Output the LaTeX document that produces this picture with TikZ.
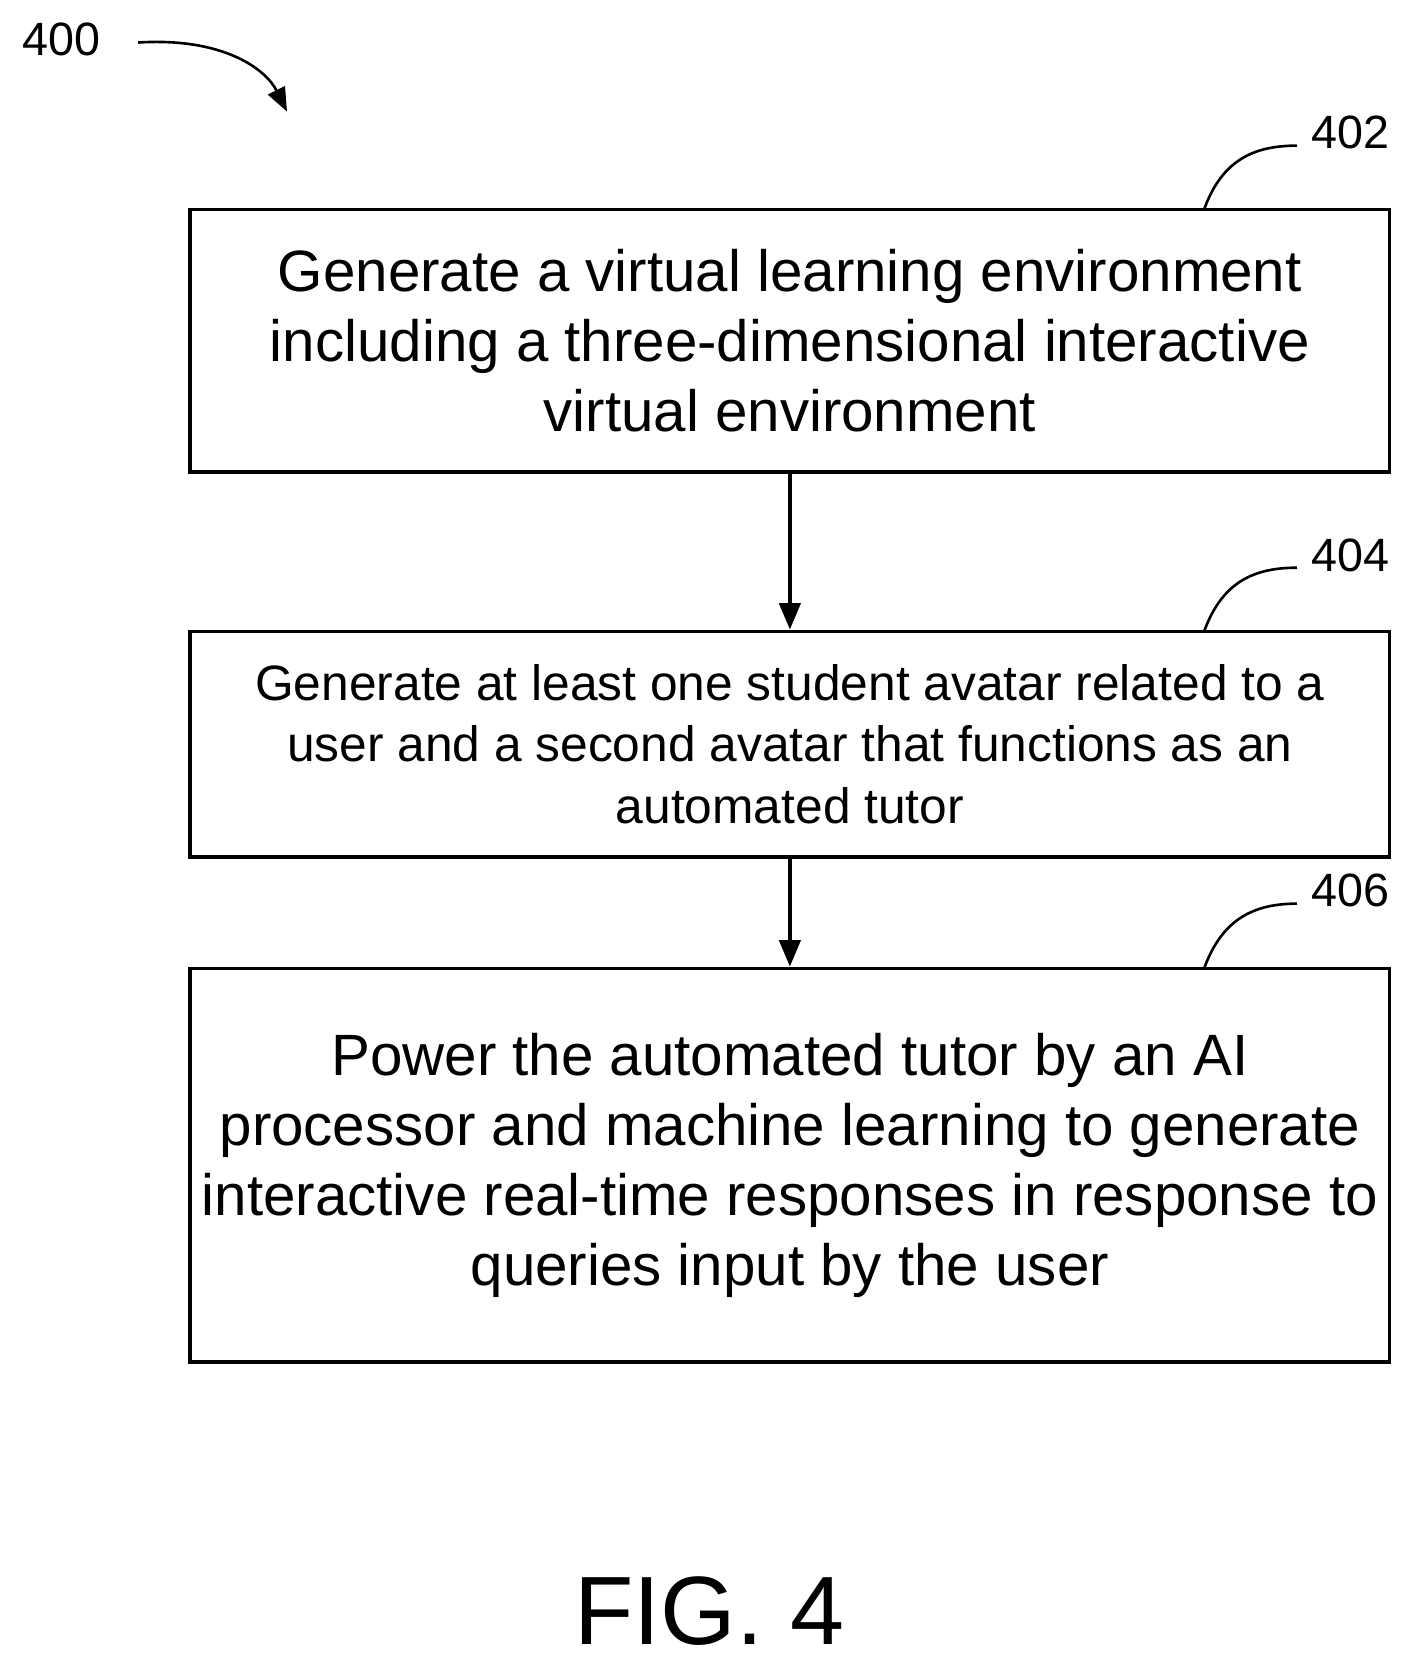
\documentclass[tikz,border=0pt]{standalone}
\usepackage{fontspec}
\setmainfont{Liberation Sans}
\usetikzlibrary{arrows.meta}
\tikzset{
  flowbox/.style={draw, line width=2pt, align=center},
  ref/.style={font=\fontsize{25}{30}\selectfont, anchor=center},
  lead/.style={line width=1.4pt},
  flow/.style={line width=2pt, -{Triangle[length=0.5cm, width=0.4cm]}}
}
\begin{document}
\begin{tikzpicture}
\useasboundingbox (0,0) rectangle (26.6,-31.38);

% Steps
\node[flowbox, minimum width=22.56cm, minimum height=4.94cm, font=\fontsize{31.2}{37.5}\selectfont] (gen) at (14.86,-6.41) {Generate a virtual learning environment\\including a three-dimensional interactive\\virtual environment};
\node[flowbox, minimum width=22.56cm, minimum height=4.24cm, font=\fontsize{26.6}{33}\selectfont] (avatar) at (14.86,-14.0) {Generate at least one student avatar related to a\\user and a second avatar that functions as an\\automated tutor};
\node[flowbox, minimum width=22.56cm, minimum height=7.4cm, font=\fontsize{31.2}{37.5}\selectfont] (tutor) at (14.86,-21.92) {Power the automated tutor by an AI\\processor and machine learning to generate\\interactive real-time responses in response to\\queries input by the user};

% Arrows
\draw[flow] (gen) -- (avatar);
\draw[flow] (avatar) -- (tutor);

% Reference numerals
\node[ref] (r400) at (1.16,-0.74) {400};
\node[ref] (r402) at (25.4,-2.5) {402};
\node[ref] (r404) at (25.4,-10.44) {404};
\node[ref] (r406) at (25.4,-16.76) {406};
\coordinate (c400) at (5.4,-2.1);
\draw[lead, -{Triangle[length=0.45cm, width=0.35cm]}] (2.6,-0.8) .. controls (4.2,-0.7) and (5.0,-1.3) .. (c400);
\draw[lead] (22.66,-3.92) .. controls (23.0,-3.0) and (23.6,-2.74) .. (24.4,-2.74);
\draw[lead] (22.66,-11.86) .. controls (23.0,-10.94) and (23.6,-10.68) .. (24.4,-10.68);
\draw[lead] (22.66,-18.2) .. controls (23.0,-17.28) and (23.6,-17.0) .. (24.4,-17.0);

% Figure label
\node[font=\fontsize{52}{60}\selectfont] (fig) at (13.34,-30.3) {FIG. 4};
\end{tikzpicture}
\end{document}
